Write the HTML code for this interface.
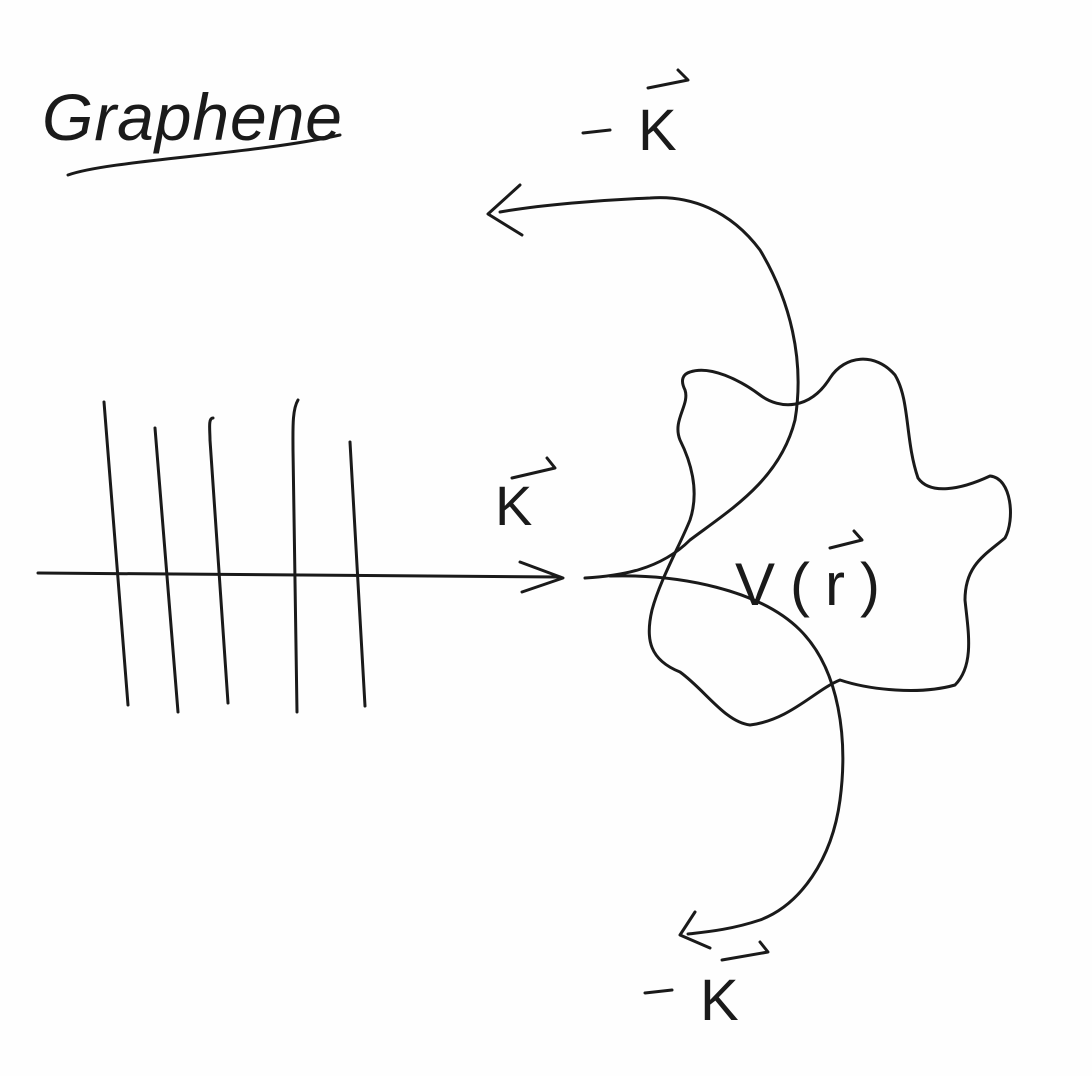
<!DOCTYPE html>
<html><head><meta charset="utf-8"><style>
html,body{margin:0;padding:0;background:#fff;}
svg{display:block;}
text{font-family:"Liberation Sans",sans-serif;fill:#1a1a1a;}
</style></head><body>
<svg width="1092" height="1076" viewBox="0 0 1092 1076" fill="none" stroke="#1a1a1a" stroke-width="3" stroke-linecap="round" stroke-linejoin="round">
<rect x="0" y="0" width="1092" height="1076" fill="#fefefe" stroke="none"/>
<text x="42" y="140" font-size="66" stroke="none" style="font-style:italic" textLength="300">Graphene</text>
<path d="M68,175 C110,160 250,155 340,135"/>
<g>
<path d="M583,133 L610,130"/>
<text x="638" y="150" font-size="58" stroke="none">K</text>
<path d="M648,88 L688,80 L678,70"/>
</g>
<g>
<path d="M645,993 L672,990"/>
<text x="700" y="1020" font-size="58" stroke="none">K</text>
<path d="M722,960 L768,952 L760,942"/>
</g>
<g>
<path d="M104,402 L128,705"/>
<path d="M155,428 L178,712"/>
<path d="M213,418 C208,418 210,430 210,440 L228,703"/>
<path d="M298,400 C292,410 293,430 293,450 L297,712"/>
<path d="M350,442 L365,706"/>
</g>
<path d="M38,573 L560,577"/>
<path d="M520,562 L563,578 L522,592"/>
<text x="495" y="525" font-size="56" stroke="none">K</text>
<path d="M512,478 L555,468 L547,458"/>
<path d="M690,372 C710,365 740,380 760,395 C780,410 810,410 830,378 C845,355 875,352 895,375 C910,400 905,440 918,478 C930,495 960,490 990,476 C1012,478 1015,520 1005,538 C985,555 965,565 965,600 C968,630 975,665 955,685 C920,695 870,690 840,680 C815,690 790,720 750,725 C725,722 705,690 680,672 C650,660 645,640 652,610 C660,580 680,545 690,520 C700,490 690,460 680,440 C672,420 690,405 685,390 C680,380 683,374 690,372 Z"/>
<text x="735" y="605" font-size="60" stroke="none" textLength="145">V(r)</text>
<path d="M830,548 L862,540 L854,531"/>
<path d="M585,578 C620,576 660,570 690,540 C730,510 780,480 795,420 C805,360 790,300 760,250 C730,210 690,195 650,198 C600,200 540,205 500,212"/>
<path d="M520,185 L488,214 L522,235"/>
<path d="M610,576 C680,574 760,590 800,630 C840,670 848,740 840,800 C832,860 800,905 760,920 C730,930 705,932 688,934"/>
<path d="M695,912 L680,935 L710,948"/>
</svg>
</body></html>
